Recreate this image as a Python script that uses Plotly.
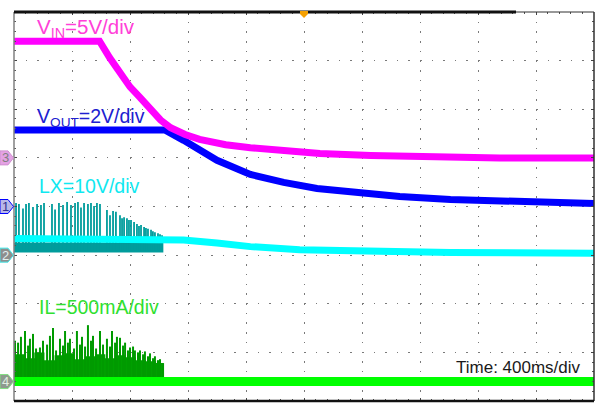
import plotly.graph_objects as go

# ---------------- data ----------------
# time in ms (10 div x 400 ms/div), trigger at centre
XDIV_MS = 400
N_XDIV = 10

# VIN, 5 V/div
vin_t = [0, 590, 660, 730, 800, 870, 940, 1010, 1080, 1180, 1280, 1460, 1630, 1830, 2110, 2460, 2870, 3350, 4000]
vin_v = [12.0, 12.0, 10.3, 8.7, 7.3, 6.2, 5.0, 3.9, 3.1, 2.4, 1.9, 1.35, 1.05, 0.75, 0.45, 0.25, 0.1, 0.0, 0.0]

# VOUT, 2 V/div
vout_t = [0, 1040, 1170, 1280, 1400, 1630, 1860, 2090, 2320, 2660, 3010, 3350, 4000]
vout_v = [3.15, 3.15, 2.72, 2.31, 1.90, 1.32, 0.99, 0.74, 0.58, 0.41, 0.29, 0.21, 0.12]

# LX averaged trace, 10 V/div
lx_t = [0, 1010, 1170, 1400, 1630, 1970, 2320, 3010, 4000]
lx_v = [3.4, 3.4, 3.1, 2.5, 1.75, 1.13, 0.82, 0.52, 0.41]
# LX switching spikes (time ms, peak V)
lx_spike_t = [14, 34, 62, 83, 103, 131, 159, 186, 207, 262, 283, 310, 338, 366, 393, 421, 441, 462, 483, 510,
              531, 552, 572, 593, 641, 662, 683, 703, 731, 745, 759, 779, 793, 807, 828, 848, 862, 876, 897, 910,
              924, 945, 958, 972, 993, 1007, 1021]
lx_spike_v = [10.7, 10.5, 9.6, 10.5, 10.7, 9.9, 10.5, 10.3, 10.7, 10.5, 9.4, 10.7, 10.3, 10.9, 10.3, 10.7, 10.9, 9.8,
              10.7, 10.5, 10.7, 10.1, 10.7, 10.5, 9.3, 8.2, 9.1, 8.9, 8.2, 7.6, 7.8, 7.6, 7.2, 7.2, 6.8, 6.4, 6.0,
              6.2, 5.8, 5.6, 5.4, 5.2, 4.9, 4.7, 4.5, 4.3, 4.1]
lx_low_t = [0, 1030]
lx_low_v = [1.55, 1.55]

# IL, 500 mA/div
il_t = [0, 4000]
il_a = [0.0, 0.0]
il_spike_t = [7, 28, 48, 76, 97, 110, 131, 152, 179, 200, 228, 248, 269, 290, 317, 338, 352, 372, 386, 414,
              434, 455, 469, 490, 510, 531, 545, 566, 593, 614, 641, 662, 676, 697, 710, 731, 752, 766, 786, 800,
              821, 834, 855, 869, 890, 903, 924, 938, 959, 972, 993, 1007, 1028]
il_spike_a = [0.42, 0.40, 0.46, 0.52, 0.37, 0.44, 0.49, 0.34, 0.35, 0.42, 0.38, 0.47, 0.55, 0.32, 0.44, 0.37, 0.52,
              0.40, 0.44, 0.34, 0.52, 0.38, 0.46, 0.36, 0.58, 0.42, 0.47, 0.34, 0.52, 0.38, 0.44, 0.36, 0.52, 0.40,
              0.46, 0.45, 0.37, 0.40, 0.32, 0.35, 0.36, 0.32, 0.30, 0.32, 0.28, 0.31, 0.26, 0.29, 0.24, 0.26, 0.22,
              0.23, 0.19]
il_fill_t = [0, 70, 140, 210, 280, 350, 420, 490, 560, 630, 700, 770, 840, 910, 980, 1030]
il_fill_a = [0.28, 0.24, 0.30, 0.22, 0.27, 0.29, 0.23, 0.26, 0.28, 0.24, 0.27, 0.25, 0.22, 0.21, 0.19, 0.17]

# channel settings: (units per div, ground offset in div)
vin_scale, vin_off = 5.0, 1.0
vout_scale, vout_off = 2.0, 0.0
lx_scale, lx_off = 10.0, -1.0
il_scale, il_off = 0.5, -3.6

labels = {
    "vin": "V<sub>IN</sub>=5V/div",
    "vout": "V<sub>OUT</sub>=2V/div",
    "lx": "LX=10V/div",
    "il": "IL=500mA/div",
    "time": "Time: 400ms/div",
}

FONT = "Arial, 'Liberation Sans', sans-serif"


def to_div(vals, scale, off):
    return [off + v / scale for v in vals]


def spikes(ts, vs, base, scale, off):
    xs, ys = [], []
    for t, v in zip(ts, vs):
        xs += [t, t, None]
        ys += [off + base / scale, off + v / scale, None]
    return xs, ys


fig = go.Figure()

# ---- IL ----
fig.add_trace(go.Scatter(x=[il_fill_t[0], il_fill_t[-1]], y=to_div([0, 0], il_scale, il_off),
                         mode="lines", line=dict(width=0, color="#00a000"), hoverinfo="skip"))
fig.add_trace(go.Scatter(x=il_fill_t, y=to_div(il_fill_a, il_scale, il_off), mode="lines",
                         line=dict(width=0, color="#00a000", shape="hv"), fill="tonexty",
                         fillcolor="#00a000", hoverinfo="skip"))
sx, sy = spikes(il_spike_t, il_spike_a, 0.0, il_scale, il_off)
fig.add_trace(go.Scatter(x=sx, y=sy, mode="lines", line=dict(width=2, color="#009a00"), hoverinfo="skip"))
fig.add_trace(go.Scatter(x=il_t, y=to_div(il_a, il_scale, il_off), mode="lines",
                         line=dict(width=9, color="#00ff00"), hoverinfo="skip"))

# ---- LX ----
fig.add_trace(go.Scatter(x=lx_low_t, y=to_div(lx_low_v, lx_scale, lx_off), mode="lines",
                         line=dict(width=10, color="#009c9c"), hoverinfo="skip"))
sx, sy = spikes(lx_spike_t, lx_spike_v, 1.0, lx_scale, lx_off)
fig.add_trace(go.Scatter(x=sx, y=sy, mode="lines", line=dict(width=1.8, color="#009c9c"), hoverinfo="skip"))
fig.add_trace(go.Scatter(x=lx_t, y=to_div(lx_v, lx_scale, lx_off), mode="lines",
                         line=dict(width=7, color="#00ffff"), hoverinfo="skip"))

# ---- VOUT ----
fig.add_trace(go.Scatter(x=vout_t, y=to_div(vout_v, vout_scale, vout_off), mode="lines",
                         line=dict(width=7, color="#0000ff"), hoverinfo="skip"))
# ---- VIN ----
fig.add_trace(go.Scatter(x=vin_t, y=to_div(vin_v, vin_scale, vin_off), mode="lines",
                         line=dict(width=7, color="#ff00ff"), hoverinfo="skip"))

XMAX = XDIV_MS * N_XDIV
L, R, T, B = 14, 2, 12, 2
W, H = 596, 403
PW, PH = W - L - R, H - T - B


def pxx(px):  # pixel x -> paper
    return (px - L) / PW


def pxy(py):  # pixel y -> paper
    return (H - B - py) / PH


def divp(d):
    return (d + 4) / 8


grid_common = dict(showgrid=True, gridcolor="#7a7a7a", gridwidth=1, zeroline=False,
                   showticklabels=False, showline=False, ticks="inside", ticklen=3,
                   tickcolor="#444", tickwidth=1, mirror="ticks")
fig.update_xaxes(range=[0, XMAX], dtick=XDIV_MS, tick0=0, griddash="1.5px,8.2px",
                 minor=dict(dtick=XDIV_MS / 5, ticks="inside", ticklen=2, tickcolor="#555", showgrid=False),
                 **grid_common)
fig.update_yaxes(range=[-4, 4], dtick=1, tick0=-4, griddash="1.5px,10.1px",
                 minor=dict(dtick=0.2, ticks="inside", ticklen=2, tickcolor="#555", showgrid=False),
                 **grid_common)

shapes = [
    dict(type="line", xref="paper", yref="paper", x0=0, x1=0, y0=0, y1=1, line=dict(color="#808080", width=1.5)),
    dict(type="line", xref="paper", yref="paper", x0=1, x1=1, y0=0, y1=1, line=dict(color="#303030", width=1.5)),
    dict(type="line", xref="paper", yref="paper", x0=0, x1=1, y0=1, y1=1, line=dict(color="#303030", width=1)),
    dict(type="line", xref="paper", yref="paper", x0=0, x1=pxx(516), y0=1, y1=1, line=dict(color="#111", width=3)),
    dict(type="line", xref="paper", yref="paper", x0=0, x1=1, y0=0, y1=0, line=dict(color="#111", width=2.5)),
]
# trigger marker
cx = 0.5
shapes.append(dict(type="path", xref="paper", yref="paper",
                   path=f"M {cx - 4/PW},{pxy(11)} L {cx + 4/PW},{pxy(11)} L {cx + 4/PW},{pxy(14)} "
                        f"L {cx},{pxy(18)} L {cx - 4/PW},{pxy(14)} Z",
                   fillcolor="#f5a000", line=dict(color="#f5a000", width=0)))

markers = [
    ("3", vin_off, "#e4a2e4", "#d090d0", "#808080"),
    ("1", vout_off, "#b8b8e8", "#0000ff", "#303090"),
    ("2", lx_off, "#8e8e8e", "#40e8e8", "#e0f0f0"),
    ("4", il_off, "#8e9a8e", "#80e080", "#e0eee0"),
]
annotations = []
for num, off, fill, edge, tc in markers:
    c = divp(off)
    h = 7 / PH
    path = (f"M {pxx(0)},{c + h} L {pxx(8)},{c + h} L {pxx(13.5)},{c} L {pxx(8)},{c - h} "
            f"L {pxx(0)},{c - h} Z")
    shapes.append(dict(type="path", xref="paper", yref="paper", path=path,
                       fillcolor=fill, line=dict(color=edge, width=1)))
    annotations.append(dict(x=pxx(5.5), y=c, xref="paper", yref="paper", text=num, showarrow=False,
                            xanchor="center", yanchor="middle", font=dict(family=FONT, size=13, color=tc)))

lab_font = 19.5
annotations += [
    dict(x=145, y=3.67, text=labels["vin"], font=dict(family=FONT, size=20.5, color="#ff40d8")),
    dict(x=145, y=1.84, text=labels["vout"], font=dict(family=FONT, size=lab_font, color="#2020d0")),
    dict(x=159, y=0.42, text=labels["lx"], font=dict(family=FONT, size=lab_font, color="#10e8f0")),
    dict(x=159, y=-2.07, text=labels["il"], font=dict(family=FONT, size=lab_font, color="#30e030")),
]
for a in annotations[-4:]:
    a.update(xref="x", yref="y", showarrow=False, xanchor="left", yanchor="middle")
annotations.append(dict(x=3924, y=-3.32, xref="x", yref="y", text=labels["time"], showarrow=False,
                        xanchor="right", yanchor="middle", font=dict(family=FONT, size=17, color="#1a1a1a")))

fig.update_layout(width=W, height=H, margin=dict(l=L, r=R, t=T, b=B, pad=0),
                  paper_bgcolor="white", plot_bgcolor="white", showlegend=False,
                  shapes=shapes, annotations=annotations)

fig.write_html("out.html")
